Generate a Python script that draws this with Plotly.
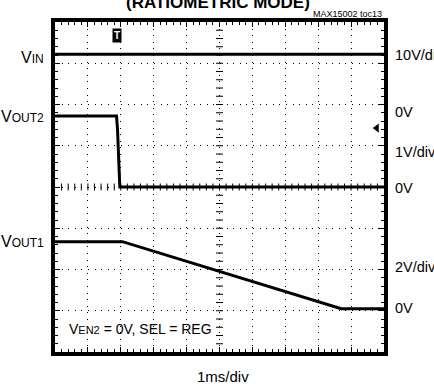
#%%
import plotly.graph_objs as go

#%%
# scope channels (time in ms, volts)
t_vin = [0, 10]
v_vin = [14, 14]

t_vout2 = [0, 1.87, 1.9, 1.94, 1.97, 10]
v_vout2 = [1.72, 1.72, 1.4, 0.6, 0, 0]

t_vout1 = [0, 2.05, 8.7, 10]
v_vout1 = [3.25, 3.25, 0, 0]

# volts per division and ground position (in divisions) for each channel
ch_vin = dict(scale=10, zero=5.82)
ch_vout2 = dict(scale=1, zero=4.0)
ch_vout1 = dict(scale=2, zero=1.05)

FONT = 'Liberation Sans, Arial, sans-serif'


def to_div(volts, ch):
    return [ch['zero'] + v / ch['scale'] for v in volts]


#%%
data = []
for t, v, ch in [(t_vin, v_vin, ch_vin), (t_vout2, v_vout2, ch_vout2), (t_vout1, v_vout1, ch_vout1)]:
    data.append(go.Scatter(x=t, y=to_div(v, ch), mode='lines',
                           line=dict(color='black', width=3), hoverinfo='skip'))

# small graticule ticks on the centre cross
steps = [i * 0.2 for i in range(1, 50)]
data.append(go.Scatter(x=steps, y=[4] * len(steps), mode='markers',
                       marker=dict(symbol='line-ns', size=5, line=dict(color='black', width=1))))
vsteps = [i * 0.2 for i in range(1, 40)]
data.append(go.Scatter(x=[5] * len(vsteps), y=vsteps, mode='markers',
                       marker=dict(symbol='line-ew', size=5, line=dict(color='black', width=1))))
# ground arrow on the right edge
data.append(go.Scatter(x=[9.78], y=[5.43], mode='markers',
                       marker=dict(symbol='triangle-left', size=8, color='black')))

axis = dict(showticklabels=False, zeroline=False, showgrid=True, gridcolor='black',
            gridwidth=1, griddash='1px,5.6px', ticks='inside', ticklen=5,
            tickcolor='black', mirror='allticks', showline=True, linecolor='black',
            linewidth=3.5, minor=dict(ticks='inside', ticklen=3, tickcolor='black', showgrid=False))

annotations = []
right_labels = [('10V/div', 7.2), ('0V', 5.82), ('1V/div', 4.85), ('0V', 3.98),
                ('2V/div', 2.06), ('0V', 1.07)]
for txt, y in right_labels:
    annotations.append(dict(text=txt, x=1.028, xref='paper', y=y, yref='y',
                            xanchor='left', showarrow=False, font=dict(size=14.5)))

sub = "<span style='font-size:12px'>%s</span>"
left_labels = [('V' + sub % 'IN', 7.15), ('V' + sub % 'OUT2', 5.7), ('V' + sub % 'OUT1', 2.67)]
for txt, y in left_labels:
    annotations.append(dict(text=txt, x=-0.027, xref='paper', y=y, yref='y',
                            xanchor='right', showarrow=False, font=dict(size=16)))

annotations += [
    dict(text="V<span style='font-size:11px'>EN2</span> = 0V, SEL = REG", x=0.37, y=0.55,
         xanchor='left', showarrow=False, font=dict(size=14)),
    dict(text='1ms/div', x=0.51, xref='paper', y=-0.075, yref='paper', yanchor='middle',
         showarrow=False, font=dict(size=15)),
    dict(text='<b>(RATIOMETRIC MODE)</b>', x=0.495, xref='paper', y=1.059, yref='paper',
         yanchor='middle', showarrow=False, font=dict(size=17)),
    dict(text='MAX15002 toc13', x=1.0, xref='paper', y=1.024, yref='paper',
         xanchor='right', yanchor='middle', showarrow=False, font=dict(size=9)),
    dict(text='<b>T</b>', x=1.88, y=7.68, showarrow=False, bgcolor='black',
         font=dict(size=10, color='white'), borderpad=1),
]

layout = go.Layout(
    width=434, height=384,
    margin=dict(l=55, r=50, t=22, b=32),
    paper_bgcolor='white', plot_bgcolor='white',
    font=dict(family=FONT, color='black'),
    showlegend=False,
    xaxis=dict(axis, range=[0, 10], dtick=1, minor=dict(axis['minor'], dtick=0.2)),
    yaxis=dict(axis, range=[0, 8], dtick=1, minor=dict(axis['minor'], dtick=0.2)),
    annotations=annotations,
)

fig = go.Figure(data=data, layout=layout)
# page has a default body margin; drop it so the figure sits at the window corner
fig.write_html('out.html', config={'displayModeBar': False},
               post_script="document.body.style.margin='0px';")
